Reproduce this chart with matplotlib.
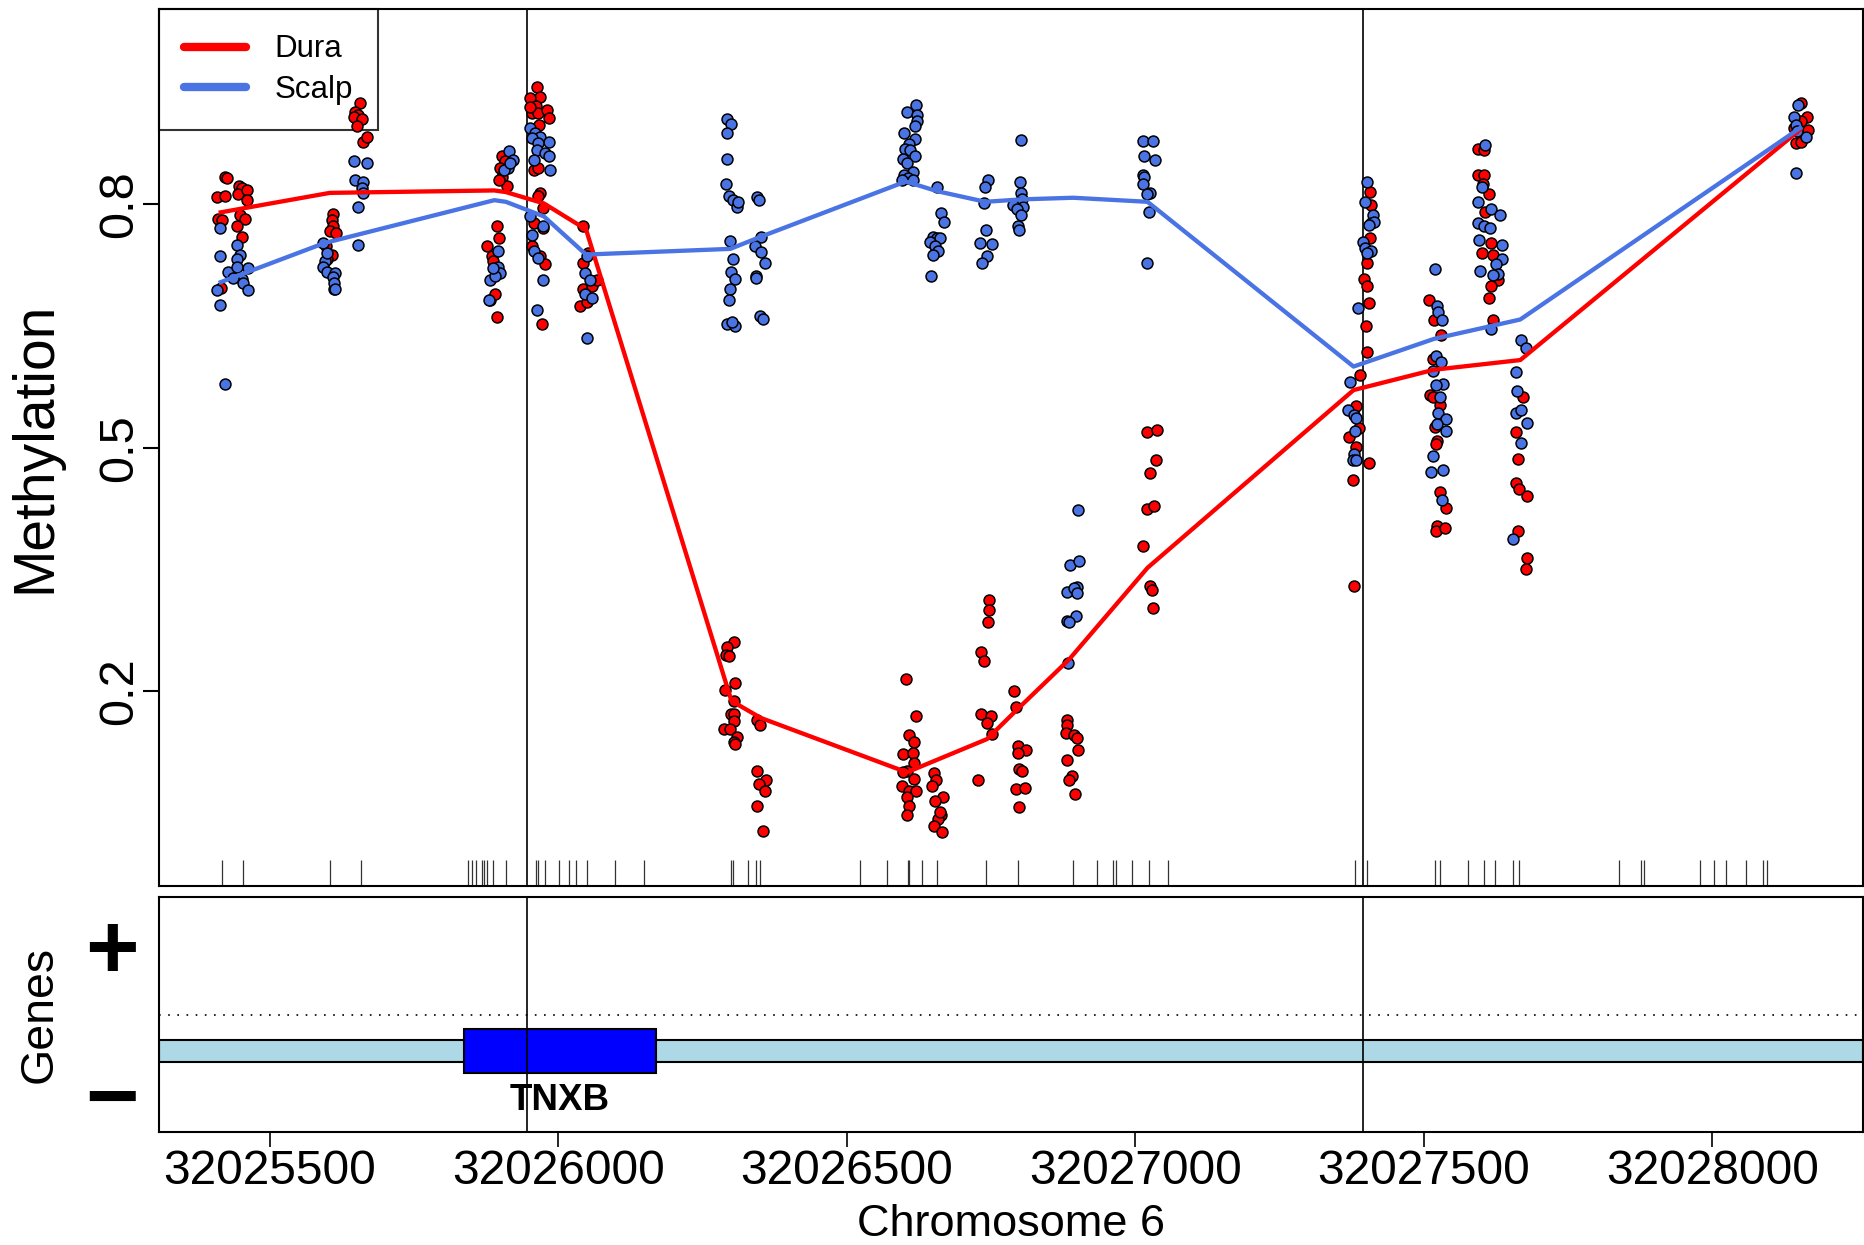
import matplotlib
matplotlib.use("Agg")
import matplotlib.pyplot as plt
from matplotlib.lines import Line2D
from matplotlib.patches import Rectangle

plt.rcParams['font.family'] = ['Liberation Sans', 'DejaVu Sans']

# CpG methylation, Dura samples (position on chr6, beta value)
dura_pos = [
    32025422, 32025426, 32025408, 32025422, 32025447, 32025451, 32025445, 32025460, 32025461, 32025411,
    32025418, 32025448, 32025457, 32025444, 32025451, 32025415,
    32025609, 32025607, 32025609, 32025604, 32025615, 32025597, 32025607, 32025611, 32025599,
    32025656, 32025648, 32025653, 32025646, 32025659, 32025651, 32025662, 32025669,
    32025902, 32025908, 32025899, 32025902, 32025911, 32025898, 32025893, 32025898, 32025876, 32025885,
    32025887, 32025882, 32025890, 32025893,
    32025963, 32025969, 32025951, 32025961, 32025954, 32025965, 32025980, 32025983, 32025967, 32025951,
    32025957, 32025965, 32025968, 32025965, 32025974, 32025957, 32025973, 32025954, 32025968, 32025977,
    32025971,
    32026043, 32026043, 32026052, 32026043, 32026058, 32026038, 32026049, 32026067,
    32026305, 32026293, 32026291, 32026295, 32026307, 32026289, 32026304, 32026299, 32026305, 32026304,
    32026287, 32026297, 32026310, 32026304, 32026307,
    32026345, 32026360, 32026348, 32026358, 32026345, 32026355, 32026345, 32026349,
    32026602, 32026620, 32026607, 32026617, 32026597, 32026614, 32026617, 32026604, 32026596, 32026617,
    32026607, 32026620, 32026604, 32026607, 32026604, 32026597,
    32026651, 32026655, 32026647, 32026667, 32026653, 32026663, 32026658, 32026651, 32026665, 32026662,
    32026746, 32026746, 32026744, 32026733, 32026738, 32026733, 32026750, 32026743, 32026751, 32026728,
    32026789, 32026793, 32026797, 32026811, 32026797, 32026799, 32026803, 32026793, 32026808, 32026799,
    32026882, 32026882, 32026879, 32026894, 32026899, 32026901, 32026881, 32026890, 32026885, 32026895,
    32027020, 32027037, 32027035, 32027025, 32027020, 32027033, 32027014, 32027025, 32027028, 32027030,
    32027406, 32027409, 32027406, 32027402, 32027396, 32027402, 32027404, 32027400, 32027402, 32027389,
    32027382, 32027388, 32027371, 32027383, 32027405, 32027377, 32027379,
    32027508, 32027517, 32027529, 32027516, 32027511, 32027516, 32027527, 32027519, 32027522, 32027521,
    32027528, 32027539, 32027522, 32027521, 32027536,
    32027594, 32027604, 32027594, 32027604, 32027602, 32027613, 32027606, 32027617, 32027600, 32027619,
    32027629, 32027616, 32027613, 32027620,
    32027672, 32027659, 32027663, 32027659, 32027665, 32027678, 32027663, 32027678, 32027677,
    32028154, 32028164, 32028154, 32028165, 32028145, 32028154, 32028142,
]
dura_meth = [
    0.833, 0.832, 0.809, 0.810, 0.823, 0.820, 0.812, 0.817, 0.805, 0.782,
    0.781, 0.787, 0.782, 0.773, 0.760, 0.697,
    0.788, 0.781, 0.773, 0.767, 0.764, 0.748, 0.738, 0.696, 0.732,
    0.925, 0.914, 0.910, 0.907, 0.905, 0.896, 0.877, 0.883,
    0.859, 0.853, 0.845, 0.834, 0.822, 0.830, 0.773, 0.758, 0.748, 0.736,
    0.730, 0.682, 0.689, 0.661,
    0.944, 0.932, 0.931, 0.921, 0.912, 0.912, 0.916, 0.906, 0.898, 0.920,
    0.842, 0.845, 0.814, 0.810, 0.795, 0.777, 0.771, 0.748, 0.736, 0.726,
    0.652,
    0.773, 0.728, 0.740, 0.695, 0.699, 0.674, 0.680, 0.707,
    0.261, 0.254, 0.244, 0.243, 0.210, 0.201, 0.188, 0.172, 0.172, 0.163,
    0.154, 0.153, 0.143, 0.137, 0.135,
    0.102, 0.091, 0.085, 0.077, 0.059, 0.028, 0.165, 0.158,
    0.215, 0.169, 0.146, 0.137, 0.122, 0.124, 0.112, 0.102, 0.083, 0.092,
    0.077, 0.077, 0.069, 0.059, 0.048, 0.100,
    0.099, 0.091, 0.083, 0.069, 0.065, 0.048, 0.043, 0.034, 0.027, 0.051,
    0.312, 0.300, 0.285, 0.248, 0.237, 0.172, 0.170, 0.161, 0.147, 0.091,
    0.200, 0.180, 0.133, 0.128, 0.124, 0.104, 0.102, 0.080, 0.081, 0.057,
    0.165, 0.158, 0.148, 0.146, 0.142, 0.128, 0.115, 0.096, 0.091, 0.073,
    0.519, 0.522, 0.485, 0.469, 0.425, 0.428, 0.379, 0.330, 0.325, 0.303,
    0.815, 0.799, 0.758, 0.727, 0.708, 0.699, 0.678, 0.650, 0.618, 0.590,
    0.551, 0.524, 0.513, 0.501, 0.481, 0.460, 0.330,
    0.682, 0.657, 0.639, 0.609, 0.565, 0.563, 0.553, 0.526, 0.508, 0.504,
    0.445, 0.426, 0.403, 0.397, 0.401,
    0.868, 0.867, 0.836, 0.836, 0.825, 0.813, 0.790, 0.752, 0.740, 0.738,
    0.707, 0.699, 0.685, 0.657,
    0.563, 0.519, 0.486, 0.456, 0.449, 0.441, 0.397, 0.364, 0.351,
    0.925, 0.907, 0.903, 0.892, 0.876, 0.877, 0.894,
]

# CpG methylation, Scalp samples
scalp_pos = [
    32025413, 32025414, 32025444, 32025448, 32025428, 32025444, 32025463, 32025451, 32025453, 32025463,
    32025408, 32025414, 32025436, 32025443, 32025423,
    32025593, 32025596, 32025593, 32025599, 32025613, 32025609, 32025612, 32025613, 32025599,
    32025646, 32025669, 32025648, 32025662, 32025659, 32025662, 32025653, 32025652,
    32025915, 32025922, 32025913, 32025905, 32025916, 32025896, 32025896, 32025899, 32025882, 32025890,
    32025879, 32025887,
    32025951, 32025960, 32025968, 32025983, 32025954, 32025965, 32025963, 32025977, 32025983, 32025986,
    32025957, 32025951, 32025974, 32025954, 32025957, 32025965, 32025974, 32025963,
    32026049, 32026046, 32026055, 32026046, 32026058, 32026049,
    32026292, 32026300, 32026292, 32026293, 32026291, 32026296, 32026303, 32026310, 32026312, 32026298,
    32026303, 32026299, 32026306, 32026298, 32026295, 32026292, 32026306, 32026301,
    32026345, 32026347, 32026352, 32026341, 32026352, 32026358, 32026343, 32026342, 32026349, 32026355,
    32026620, 32026604, 32026622, 32026621, 32026618, 32026599, 32026618, 32026608, 32026601, 32026609,
    32026618, 32026597, 32026604, 32026615, 32026599, 32026606, 32026595, 32026615,
    32026656, 32026663, 32026668, 32026650, 32026657, 32026661, 32026644, 32026653, 32026658, 32026650,
    32026645,
    32026745, 32026739, 32026738, 32026741, 32026731, 32026751, 32026742, 32026735,
    32026801, 32026800, 32026801, 32026803, 32026797, 32026788, 32026806, 32026794, 32026801, 32026797,
    32026799,
    32026887, 32026902, 32026882, 32026899, 32026894, 32026899, 32026882, 32026897, 32026885, 32026884,
    32026901,
    32027014, 32027030, 32027015, 32027034, 32027013, 32027015, 32027014, 32027025, 32027020, 32027024,
    32027020,
    32027401, 32027398, 32027412, 32027409, 32027413, 32027404, 32027395, 32027398, 32027409, 32027401,
    32027386, 32027372, 32027369, 32027378, 32027383, 32027381, 32027379, 32027377, 32027383,
    32027519, 32027522, 32027525, 32027531, 32027521, 32027529, 32027516, 32027533, 32027521, 32027528,
    32027525, 32027538, 32027523, 32027538, 32027516, 32027513, 32027533, 32027531,
    32027606, 32027600, 32027594, 32027616, 32027631, 32027594, 32027604, 32027614, 32027596, 32027635,
    32027635, 32027625, 32027629, 32027597, 32027619, 32027616,
    32027669, 32027677, 32027659, 32027662, 32027659, 32027669, 32027678, 32027668, 32027654,
    32028148, 32028142, 32028145, 32028162, 32028147, 32028145,
]
scalp_meth = [
    0.771, 0.736, 0.750, 0.738, 0.717, 0.732, 0.721, 0.708, 0.703, 0.694,
    0.694, 0.676, 0.709, 0.723, 0.579,
    0.752, 0.730, 0.723, 0.716, 0.715, 0.710, 0.703, 0.695, 0.740,
    0.853, 0.851, 0.830, 0.828, 0.820, 0.814, 0.797, 0.750,
    0.865, 0.855, 0.845, 0.842, 0.851, 0.742, 0.723, 0.715, 0.707, 0.711,
    0.682, 0.721,
    0.894, 0.888, 0.883, 0.877, 0.881, 0.875, 0.867, 0.863, 0.859, 0.842,
    0.855, 0.785, 0.773, 0.762, 0.742, 0.734, 0.707, 0.670,
    0.736, 0.715, 0.707, 0.689, 0.685, 0.635,
    0.905, 0.899, 0.888, 0.856, 0.825, 0.810, 0.805, 0.797, 0.803, 0.755,
    0.733, 0.716, 0.708, 0.695, 0.682, 0.653, 0.650, 0.655,
    0.809, 0.805, 0.760, 0.749, 0.741, 0.727, 0.711, 0.709, 0.662, 0.658,
    0.922, 0.914, 0.910, 0.902, 0.896, 0.888, 0.880, 0.874, 0.868, 0.867,
    0.859, 0.856, 0.851, 0.840, 0.836, 0.832, 0.830, 0.830,
    0.821, 0.789, 0.778, 0.760, 0.758, 0.758, 0.753, 0.748, 0.742, 0.738,
    0.712,
    0.830, 0.821, 0.801, 0.768, 0.752, 0.751, 0.736, 0.728,
    0.879, 0.828, 0.814, 0.806, 0.802, 0.799, 0.797, 0.794, 0.787, 0.773,
    0.768,
    0.356, 0.361, 0.322, 0.328, 0.327, 0.321, 0.286, 0.293, 0.285, 0.235,
    0.423,
    0.878, 0.878, 0.860, 0.854, 0.836, 0.834, 0.825, 0.814, 0.812, 0.791,
    0.728,
    0.827, 0.803, 0.787, 0.777, 0.778, 0.775, 0.754, 0.746, 0.742, 0.740,
    0.672, 0.581, 0.546, 0.540, 0.537, 0.520, 0.492, 0.485, 0.485,
    0.720, 0.674, 0.667, 0.657, 0.613, 0.606, 0.594, 0.578, 0.577, 0.563,
    0.543, 0.535, 0.529, 0.520, 0.490, 0.470, 0.472, 0.436,
    0.873, 0.821, 0.803, 0.794, 0.787, 0.777, 0.773, 0.771, 0.756, 0.750,
    0.733, 0.726, 0.714, 0.718, 0.713, 0.646,
    0.633, 0.623, 0.593, 0.570, 0.543, 0.547, 0.530, 0.506, 0.388,
    0.922, 0.907, 0.898, 0.883, 0.890, 0.838,
]

# group mean lines
dura_line_pos = [32025415, 32025604, 32025889, 32025909, 32025975, 32026048, 32026300, 32026351,
                 32026604, 32026743, 32026796, 32026885, 32027021, 32027378, 32027517, 32027667, 32028152]
dura_line_meth = [0.790, 0.814, 0.817, 0.815, 0.801, 0.769, 0.188, 0.167,
                  0.100, 0.141, 0.178, 0.239, 0.352, 0.571, 0.596, 0.608, 0.892]
scalp_line_pos = [32025415, 32025594, 32025889, 32025909, 32025975, 32026048, 32026298, 32026351,
                  32026602, 32026657, 32026740, 32026803, 32026892, 32027021, 32027378, 32027517,
                  32027667, 32028152]
scalp_line_meth = [0.704, 0.752, 0.805, 0.803, 0.785, 0.738, 0.745, 0.760,
                   0.828, 0.816, 0.803, 0.806, 0.808, 0.803, 0.600, 0.634,
                   0.658, 0.894]

# all CpG sites in the region (rug)
cpg_sites = [
    32025417, 32025454, 32025605, 32025658, 32025843, 32025850, 32025858, 32025867, 32025871, 32025877,
    32025887, 32025910, 32025961, 32025965, 32025977, 32026001, 32026018, 32026031, 32026050, 32026099,
    32026148, 32026300, 32026303, 32026328, 32026343, 32026350, 32026523, 32026570, 32026606, 32026608,
    32026631, 32026657, 32026741, 32026797, 32026892, 32026934, 32026962, 32026966, 32026994, 32027024,
    32027056, 32027380, 32027402, 32027520, 32027528, 32027576, 32027604, 32027624, 32027654, 32027665,
    32027838, 32027877, 32027882, 32027978, 32028002, 32028023, 32028058, 32028087, 32028095,
]

dmr_bounds = [32025946, 32027395]
gene_name = "TNXB"
gene_start = 32025836
gene_end = 32026169

x_ticks = [32025500, 32026000, 32026500, 32027000, 32027500, 32028000]
y_ticks = [0.2, 0.5, 0.8]
x_range = (32025308, 32028260)

dura_color = '#FF0000'
scalp_color = '#4A74E4'

fig = plt.figure(figsize=(18.64, 12.45), dpi=100)
ax = fig.add_axes([0.0853, 0.2884, 0.9139, 0.7040])
ax_g = fig.add_axes([0.0853, 0.0905, 0.9139, 0.1892])

# methylation panel
ax.scatter(dura_pos, dura_meth, s=62, c=dura_color, edgecolors='black', linewidths=1.1, zorder=3)
ax.scatter(scalp_pos, scalp_meth, s=62, c=scalp_color, edgecolors='black', linewidths=1.1, zorder=3)
ax.plot(dura_line_pos, dura_line_meth, color=dura_color, lw=3.1, zorder=4)
ax.plot(scalp_line_pos, scalp_line_meth, color=scalp_color, lw=3.1, zorder=4)
ax.vlines(cpg_sites, 0, 0.03, transform=ax.get_xaxis_transform(), color='#333333', lw=0.9)
for b in dmr_bounds:
    ax.axvline(b, color='black', lw=1.2, zorder=2)

ax.set_xlim(*x_range)
ax.set_ylim(-0.04, 1.04)
ax.set_yticks(y_ticks)
ax.set_yticklabels([str(t) for t in y_ticks])
ax.tick_params(axis='y', length=11.5, width=1.5, labelsize=35, pad=1, labelrotation=90)
for lab in ax.get_yticklabels():
    lab.set_va('center')
ax.tick_params(axis='x', bottom=False, labelbottom=False)
for s in ax.spines.values():
    s.set_linewidth(1.5)

handles = [Line2D([0], [0], color=dura_color, lw=6, solid_capstyle='round'),
           Line2D([0], [0], color=scalp_color, lw=6, solid_capstyle='round')]
leg = ax.legend(handles, ['Dura', 'Scalp'], loc='upper left', bbox_to_anchor=(0, 1),
                borderaxespad=0, fontsize=22.5, frameon=True, fancybox=False,
                edgecolor='black', facecolor='none', handlelength=2.0, handletextpad=0.9,
                borderpad=0.8, labelspacing=0.35)
leg.get_frame().set_linewidth(1.5)
leg.set_zorder(1.5)

fig.text(35.5 / 1864, 1 - 447.7 / 1245, 'Methylation', rotation=90, ha='center', va='center',
         fontsize=41)

# gene panel
ax_g.set_xlim(*x_range)
ax_g.set_ylim(0, 1)
ax_g.axhline(0.5, color='black', lw=1.2, ls=(0, (1, 4.5)))
ax_g.axhspan(0.30, 0.39, facecolor='#ADD8E6', edgecolor='black', lw=1.5, zorder=2)
ax_g.add_patch(Rectangle((gene_start, 0.253), gene_end - gene_start, 0.185,
                         facecolor='#0000FF', edgecolor='black', lw=1.5, zorder=3))
ax_g.text((gene_start + gene_end) / 2, 0.135, gene_name, ha='center', va='center',
          fontsize=26.5, fontweight='bold', zorder=4)
for b in dmr_bounds:
    ax_g.axvline(b, color='black', lw=1.2, zorder=5)

ax_g.set_yticks([])
ax_g.set_xticks(x_ticks)
ax_g.set_xticklabels([str(t) for t in x_ticks])
ax_g.tick_params(axis='x', length=11, width=1.2, labelsize=34.5, pad=1)
for s in ax_g.spines.values():
    s.set_linewidth(1.5)

ax_g.text(-0.0276, 0.755, '+', transform=ax_g.transAxes, ha='center', va='center',
          fontsize=66, fontweight='bold')
ax_g.text(-0.0276, 0.125, '\u2212', transform=ax_g.transAxes, ha='center', va='center',
          fontsize=66, fontweight='bold')
fig.text(40 / 1864, 1 - 1014.5 / 1245, 'Genes', rotation=90, ha='center', va='center',
         fontsize=33.5)
fig.text(1011 / 1864, 1 - 1224 / 1245, 'Chromosome 6', ha='center', va='center', fontsize=32.5)

fig.savefig('out.png', dpi=100)
